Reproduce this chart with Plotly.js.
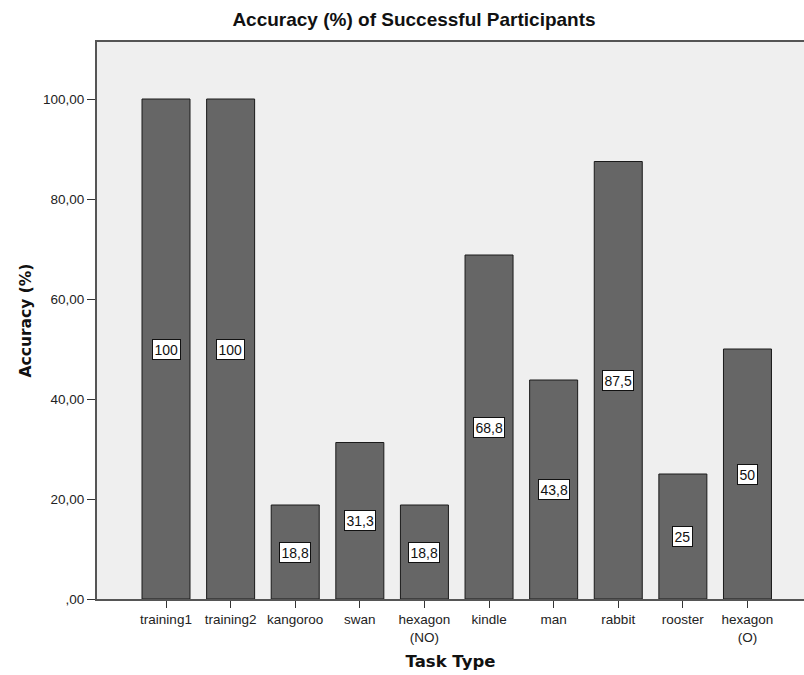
<!DOCTYPE html>
<html>
<head>
<meta charset="utf-8">
<script src="https://cdn.plot.ly/plotly-3.0.1.min.js"></script>
<style>
  html, body { margin: 0; padding: 0; background: #fff; }
  #chart { width: 804px; height: 675px; }
</style>
</head>
<body>
<div id="chart"></div>
<script>
// Task categories and the accuracy (%) of successful participants on each
const taskLabels = ["training1", "training2", "kangoroo", "swan", "hexagon<br>(NO)",
                    "kindle", "man", "rabbit", "rooster", "hexagon<br>(O)"];
const accuracy = [100, 100, 18.8, 31.3, 18.8, 68.8, 43.8, 87.5, 25, 50];

// Y axis ticks, written with a decimal comma
const yTickVals = [0, 20, 40, 60, 80, 100];
const yTickText = [",00", "20,00", "40,00", "60,00", "80,00", "100,00"];

const idx = taskLabels.map((_, i) => i);
const fmt = v => String(v).replace(".", ",");

const trace = {
  type: "bar",
  x: idx,
  y: accuracy,
  marker: { color: "#666666", line: { color: "#1a1a1a", width: 1 } },
  hoverinfo: "skip"
};

// value labels in white boxes, centred halfway up each bar
const labels = accuracy.map((v, i) => ({
  x: i, y: v / 2, xref: "x", yref: "y",
  text: fmt(v), showarrow: false,
  bgcolor: "#ffffff", bordercolor: "#111111", borderwidth: 1, borderpad: 1.5,
  font: { family: "Liberation Sans, Arial, sans-serif", size: 14, color: "#111" }
}));

const layout = {
  width: 804, height: 675,
  margin: { l: 97, r: 0, t: 42, b: 76 },
  paper_bgcolor: "#ffffff",
  plot_bgcolor: "#efefef",
  bargap: 0.257,
  showlegend: false,
  title: {
    text: "<b>Accuracy (%) of Successful Participants</b>",
    x: 414 / 804, xanchor: "center", y: 1 - 19 / 675, yanchor: "middle",
    font: { family: "Liberation Sans, Arial, sans-serif", size: 19, color: "#111" }
  },
  xaxis: {
    range: [-1.068, 9.875],
    tickvals: idx, ticktext: taskLabels,
    ticks: "outside", ticklen: 7, tickcolor: "#333", tickwidth: 1,
    showline: true, linecolor: "#555", linewidth: 2, mirror: true,
    showgrid: false, zeroline: false,
    tickfont: { family: "Liberation Sans, Arial, sans-serif", size: 13.5, color: "#222" },
    title: {
      text: "<b>Task Type</b>", standoff: 12,
      font: { family: "DejaVu Sans, sans-serif", size: 16.5, color: "#111" }
    }
  },
  yaxis: {
    range: [0, 111.4],
    tickvals: yTickVals, ticktext: yTickText,
    ticks: "outside", ticklen: 8, tickcolor: "#333", tickwidth: 1,
    showline: true, linecolor: "#555", linewidth: 2,
    showgrid: false, zeroline: false,
    tickfont: { family: "Liberation Sans, Arial, sans-serif", size: 13.5, color: "#222" },
    title: {
      text: "<b>Accuracy (%)</b>", standoff: 8,
      font: { family: "DejaVu Sans, sans-serif", size: 15.5, color: "#111" }
    }
  },
  annotations: labels
};

Plotly.newPlot("chart", [trace], layout, { displayModeBar: false, staticPlot: true });
</script>
</body>
</html>
